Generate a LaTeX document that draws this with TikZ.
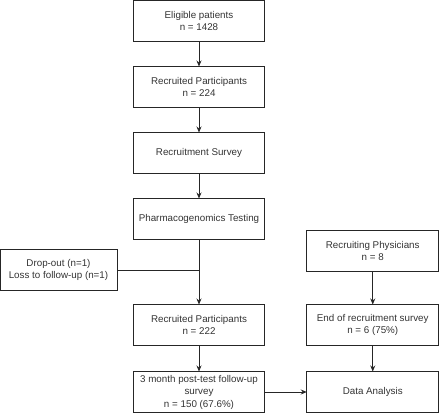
\documentclass[tikz,border=0pt]{standalone}
\usepackage{fontspec}
\setmainfont{Liberation Sans}
\usepackage{tikz}
\usetikzlibrary{positioning, arrows.meta}

\begin{document}
\begin{tikzpicture}[
	box/.style={draw=black!85, line width=0.8pt, text=black!80, align=center, minimum width=131.5pt, minimum height=41pt, inner sep=1pt, outer sep=0pt, font=\fontsize{9.8}{12.5}\selectfont},
	flow/.style={draw=black!85, line width=0.8pt, -{Stealth[length=6pt, width=5pt]}},
	node distance=25pt
	]
	\useasboundingbox (0,0) rectangle (440pt,-413pt);
	
	\node[box] (elig) at (199pt,-21pt) {Eligible patients\\n = 1428};
	\node[box, below=of elig] (recr) {Recruited Participants\\n = 224};
	\node[box, below=of recr] (survey) {Recruitment Survey};
	\node[box, below=of survey] (pgx) {Pharmacogenomics Testing};
	\node[box, below=65pt of pgx] (recrb) {Recruited Participants\\n = 222};
	\node[box, below=26pt of recrb] (follow) {3 month post-test follow-up\\survey\\n = 150 (67.6\%)};
	
	\path (pgx.south) -- (recrb.north) coordinate[pos=0.47] (merge);
	\node[box, minimum width=117pt, left=82pt of merge] (drop) {Drop-out (n=1)\\Loss to follow-up (n=1)};
	
	\node[box, minimum width=132pt, right=42pt of recrb] (endsv) {End of recruitment survey\\n = 6 (75\%)};
	\node[box, minimum width=132pt, above=33pt of endsv] (phys) {Recruiting Physicians\\n = 8};
	\node[box, minimum width=132pt, right=42pt of follow] (data) {Data Analysis};
	
	\draw[flow] (elig) -- (recr);
	\draw[flow] (recr) -- (survey);
	\draw[flow] (survey) -- (pgx);
	\draw[flow] (pgx) -- (recrb);
	\draw[draw=black!85, line width=0.8pt] (drop.east) -- (merge);
	\draw[flow] (recrb) -- (follow);
	\draw[flow] (phys) -- (endsv);
	\draw[flow] (endsv) -- (data);
	\draw[flow] (follow) -- (data);
\end{tikzpicture}
\end{document}
